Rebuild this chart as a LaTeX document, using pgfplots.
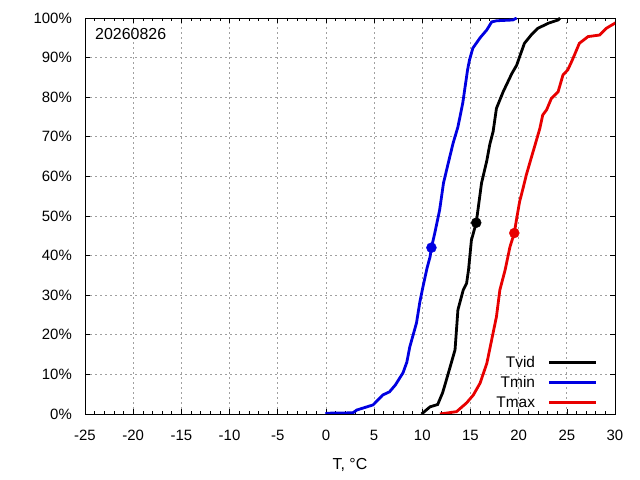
\documentclass[border=0pt]{standalone}
\usepackage{pgfplots}
\pgfplotsset{compat=1.18}
\usepackage{fontspec}
\setmainfont{Liberation Sans}
\definecolor{gpblue}{RGB}{0,0,225}
\definecolor{gpred}{RGB}{232,0,0}
\definecolor{gpgrid}{RGB}{160,160,160}
\newcommand{\gpfont}{\fontsize{16}{19}\selectfont}
\newcommand{\gptick}{\fontsize{15}{18}\selectfont}
\newcommand{\gpleg}{\fontsize{15.5}{18}\selectfont}
\begin{document}
\begin{tikzpicture}
\useasboundingbox (0,0) rectangle (640bp,480bp);
\begin{axis}[
  at={(85bp,66bp)}, anchor=south west,
  scale only axis, width=530bp, height=396bp,
  xmin=-25, xmax=30, ymin=0, ymax=100,
  xtick={-25,-20,...,30}, ytick={0,10,...,100},
  minor x tick num=4,
  tick align=inside, tick pos=both,
  major tick length=5bp, minor tick length=3bp,
  every tick/.style={black, line width=0.6bp},
  axis line style={black, line width=0.8bp},
  grid=major,
  major grid style={gpgrid, line width=0.7bp, dash pattern=on 2bp off 3bp},
  /pgf/number format/assume math mode=true,
  xticklabel={\gptick\pgfmathprintnumber{\tick}},
  yticklabel={\gptick\pgfmathprintnumber{\tick}\%},
  x tick label style={anchor=center, yshift=-21bp, inner sep=0pt},
  y tick label style={anchor=east, xshift=-13bp, inner sep=0pt},
  xlabel={\gpfont T, °C},
  xlabel style={at={(rel axis cs:0.5,0)}, anchor=center, yshift=-51bp, inner sep=0pt},
  legend cell align=right,
  legend plot pos=right,
  legend style={draw=none, fill=none, at={(rel axis cs:0.968,0.008)}, anchor=south east,
    inner sep=0pt, row sep=4bp, font=\gpleg,
    nodes={inner sep=0pt, minimum height=16bp}},
  legend image code/.code={\path (0bp,0bp); \draw[#1, line width=2.8bp] (13bp,0bp) -- (60bp,0bp);},
  clip=true,
]
\addplot[black, line width=2.8bp] coordinates {
(9.93,0) (10.8,1.8) (11.6,2.4) (12.1,5.3) (12.3,6.9) (13.0,12.8) (13.4,16.2)
(13.7,26.3) (14.25,31.3) (14.6,33) (14.8,36.4) (15.1,43.9) (15.6,48.3)
(16.15,58.3) (16.7,64) (17.0,68) (17.35,71.3) (17.7,77.2) (18.4,81.4)
(19.3,86) (19.8,88.1) (20.1,90.2) (20.6,93.6) (21.3,95.7) (22.0,97.4)
(23.1,98.7) (24.1,99.5) (24.3,100)
};
\addlegendentry{Tvid}
\addplot[gpblue, line width=2.8bp] coordinates {
(0,0) (0.07,0.2) (2.8,0.3) (3.2,1.0) (4.9,2.3) (5.9,4.8) (6.6,5.6) (7.2,7.3)
(8.0,10.4) (8.4,13.1) (8.7,16.9) (9.4,23) (9.75,28.3) (10.06,32) (10.5,36.9)
(10.8,39.6) (10.95,42) (11.3,45.7) (11.8,51.5) (12.2,58.3) (12.7,63.4)
(13.2,68.4) (13.7,72.5) (14.2,78.5) (14.7,86.9) (14.9,89.4) (15.25,92.4)
(16.0,95) (16.7,97) (17.2,99) (17.7,99.3) (19.4,99.5) (19.8,100)
};
\addlegendentry{Tmin}
\addplot[gpred, line width=2.8bp] coordinates {
(11.83,0) (13.56,0.6) (14.6,2.8) (15.3,4.8) (16.0,7.8) (16.7,12.8) (17.2,18.7)
(17.7,24.6) (18.05,31.3) (18.6,36.4) (19.1,42.2) (19.55,45.7) (19.8,49.4)
(20.1,53.6) (20.5,57.4) (20.8,60.4) (21.3,64.6) (21.7,67.9) (22.2,72.1)
(22.5,75.5) (22.9,76.8) (23.4,79.7) (24.1,81.4) (24.6,85.6) (25.1,86.9)
(25.5,89) (25.8,90.7) (26.3,93.6) (27.2,95.3) (28.4,95.7) (29.1,97.4)
(30,98.7) (30.5,99.2)
};
\addlegendentry{Tmax}
\addplot[black, only marks, mark=*, mark size=5bp, forget plot] coordinates {(15.6,48.3)};
\addplot[gpblue, only marks, mark=*, mark size=5bp, forget plot] coordinates {(10.95,42)};
\addplot[gpred, only marks, mark=*, mark size=5bp, forget plot] coordinates {(19.55,45.7)};
\node[anchor=west, inner sep=0pt, font=\gpfont] at (axis cs:-23.96,96) {20260826};
\end{axis}
\end{tikzpicture}
\end{document}
